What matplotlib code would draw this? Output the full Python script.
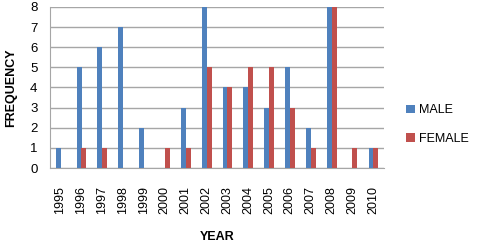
import matplotlib.pyplot as plt
import numpy as np

# data
years = ['1995', '1996', '1997', '1998', '1999', '2000', '2001', '2002',
         '2003', '2004', '2005', '2006', '2007', '2008', '2009', '2010']
male = [1, 5, 6, 7, 2, 0, 3, 8, 4, 4, 3, 5, 2, 8, 0, 1]
female = [0, 1, 1, 0, 0, 1, 1, 5, 4, 5, 5, 3, 1, 8, 1, 1]

plt.rcParams['font.family'] = ['Liberation Sans', 'DejaVu Sans']

fig = plt.figure(figsize=(4.8, 2.46), dpi=100)
ax = fig.add_axes([0.104, 0.317, 0.695, 0.655])

x = np.arange(len(years))
w = 0.24
ax.bar(x - 0.1, male, w, color='#4F81BD', label='MALE', zorder=3)
ax.bar(x + 0.13, female, w, color='#C0504D', label='FEMALE', zorder=3)

ax.set_xlim(-0.5, len(years) - 0.5)
ax.set_ylim(0, 8)
ax.set_yticks(range(9))
ax.set_xticks(x)
ax.set_xticklabels(years, rotation=90, fontsize=9)
ax.tick_params(axis='y', labelsize=9.5, length=0, pad=9)
ax.tick_params(axis='x', length=0, pad=13)
ax.yaxis.grid(True, color='#A6A6A6', linewidth=1, zorder=0)

for s in ['top', 'right']:
    ax.spines[s].set_visible(False)
ax.spines['left'].set_color('#A6A6A6')
ax.spines['bottom'].set_color('#A6A6A6')

ax.set_ylabel('FREQUENCY', fontsize=9, fontweight='bold', labelpad=9)
ax.set_xlabel('YEAR', fontsize=9, fontweight='bold', labelpad=12)

ax.legend(loc='center left', bbox_to_anchor=(1.035, 0.27), frameon=False,
          fontsize=9, handlelength=0.7, handleheight=0.7, handletextpad=0.3,
          labelspacing=1.3)

plt.savefig('out.png', dpi=100)
